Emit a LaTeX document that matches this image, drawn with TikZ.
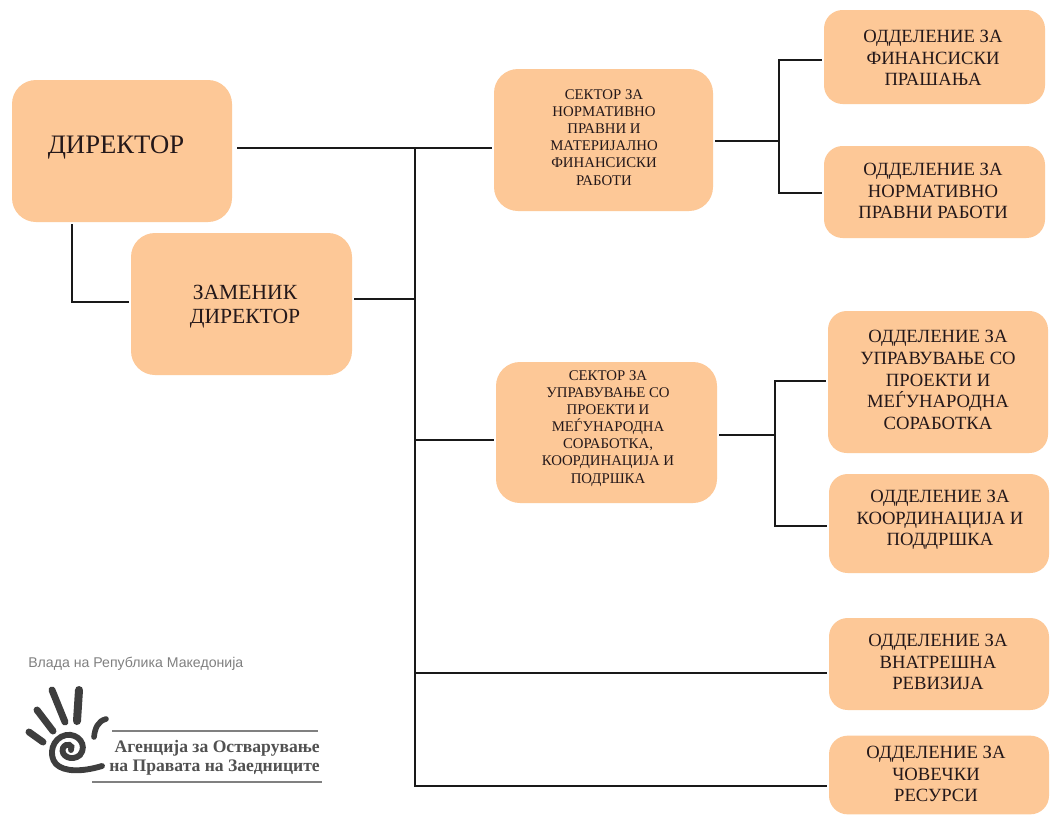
\documentclass[tikz,border=0pt]{standalone}
\usepackage{fontspec}
\setmainfont{Liberation Serif}
\newfontfamily\logosans{Liberation Sans}
\definecolor{boxfill}{HTML}{FDC897}
\definecolor{inkc}{HTML}{24181A}
\definecolor{logoc}{HTML}{3E3E3E}
\tikzset{
  orgbox/.style={fill=boxfill,draw=none,rounded corners=18pt,anchor=center,inner sep=0pt,outer sep=1.5pt},
  deptbox/.style={orgbox,rounded corners=14pt},
  depttxt/.style={align=center,text=inkc,inner sep=0pt,font=\fontsize{14}{16.2}\selectfont},
  sectxt/.style={align=center,text=inkc,inner sep=0pt,font=\fontsize{11.1}{12.8}\selectfont},
  bigtxt/.style={align=center,text=inkc,inner sep=0pt,font=\fontsize{20}{20}\selectfont},
  midtxt/.style={align=center,text=inkc,inner sep=0pt,font=\fontsize{16.2}{17.5}\selectfont},
  conn/.style={draw=black!90,line width=2.1pt},
  fingerln/.style={draw=logoc,line width=5.2pt,line cap=round},
  rulerln/.style={draw=gray,line width=0.9pt},
  logotxt/.style={font=\bfseries\fontsize{13.2}{15}\selectfont,text=logoc!90,inner sep=0pt,anchor=east}
}
\begin{document}
\begin{tikzpicture}[x=0.75pt,y=-0.75pt]
\useasboundingbox (0,0) rectangle (1055,814);
\fill[white] (0,0) rectangle (1055,814);
% boxes: minimum size in pt (px*0.75)
\node[orgbox,minimum width=165pt,minimum height=106.5pt] (dir) at (122,151) {};
\node[orgbox,minimum width=165.75pt,minimum height=106.5pt] (zam) at (241.5,304) {};
\node[orgbox,minimum width=164.25pt,minimum height=106.5pt] (s1) at (603.5,140) {};
\node[orgbox,minimum width=165.75pt,minimum height=105.75pt] (s2) at (606.5,432.5) {};
\node[deptbox,minimum width=165.75pt,minimum height=70.5pt] (o1) at (934.5,57) {};
\node[deptbox,minimum width=165.75pt,minimum height=69pt] (o2) at (934.5,192) {};
\node[deptbox,minimum width=165pt,minimum height=106.5pt] (o3) at (938,382) {};
\node[deptbox,minimum width=165pt,minimum height=74.25pt] (o4) at (939,523.5) {};
\node[deptbox,minimum width=165pt,minimum height=69pt] (o5) at (939,664) {};
\node[deptbox,minimum width=165pt,minimum height=59pt] (o6) at (939,775) {};
% texts
\node[bigtxt] (dirt) at (116,148) {ДИРЕКТОР};
\node[midtxt] (zamt) at (245,306.5) {ЗАМЕНИК\\ДИРЕКТОР};
\node[sectxt] (s1t) at (604,137.5) {СЕКТОР ЗА\\НОРМАТИВНО\\ПРАВНИ И\\МАТЕРИЈАЛНО\\ФИНАНСИСКИ\\РАБОТИ};
\node[sectxt] (s2t) at (608,428.5) {СЕКТОР ЗА\\УПРАВУВАЊЕ СО\\ПРОЕКТИ И\\МЕЃУНАРОДНА\\СОРАБОТКА,\\КООРДИНАЦИЈА И\\ПОДРШКА};
\node[depttxt] (o1t) at (933,58) {ОДДЕЛЕНИЕ ЗА\\ФИНАНСИСКИ\\ПРАШАЊА};
\node[depttxt] (o2t) at (933,191) {ОДДЕЛЕНИЕ ЗА\\НОРМАТИВНО\\ПРАВНИ РАБОТИ};
\node[depttxt] (o3t) at (938,380) {ОДДЕЛЕНИЕ ЗА\\УПРАВУВАЊЕ СО\\ПРОЕКТИ И\\МЕЃУНАРОДНА\\СОРАБОТКА};
\node[depttxt] (o4t) at (940,520) {ОДДЕЛЕНИЕ ЗА\\КООРДИНАЦИЈА И\\ПОДДРШКА};
\node[depttxt] (o5t) at (938,662) {ОДДЕЛЕНИЕ ЗА\\ВНАТРЕШНА\\РЕВИЗИЈА};
\node[depttxt] (o6t) at (936,774) {ОДДЕЛЕНИЕ ЗА\\ЧОВЕЧКИ\\РЕСУРСИ};
% junction coordinates
\coordinate (ttop) at (415,148);
\coordinate (tzam) at (415,299);
\coordinate (ts2) at (415,440);
\coordinate (to5) at (415,673);
\coordinate (to6) at (415,786);
\coordinate (dcorner) at (72,302);
\coordinate (j1) at (779,141);
\coordinate (j1a) at (779,60);
\coordinate (j1b) at (779,193);
\coordinate (j2) at (775,435);
\coordinate (j2a) at (775,381);
\coordinate (j2b) at (775,526);
% connectors
\draw[conn,line cap=rect] (ttop) -- (to6);
\draw[conn] (dir.east |- ttop) ++(3,0) -- (ttop) -- (s1.west |- ttop);
\draw[conn] (zam.east |- tzam) -- (tzam);
\draw[conn] (ts2) -- (s2.west |- ts2);
\draw[conn] (to5) -- (o5.west |- to5);
\draw[conn] (to6) -- (o6.west |- to6);
\draw[conn] (dir.south -| dcorner) -- (dcorner) -- (zam.west |- dcorner);
\draw[conn] (s1.east |- j1) -- (j1);
\draw[conn,line cap=rect] (j1a) -- (j1b);
\draw[conn] (j1a) -- (o1.west |- j1a);
\draw[conn] (j1b) -- (o2.west |- j1b);
\draw[conn] (s2.east |- j2) -- (j2);
\draw[conn,line cap=rect] (j2a) -- (j2b);
\draw[conn] (j2a) -- (o3.west |- j2a);
\draw[conn] (j2b) -- (o4.west |- j2b);
% logo
\node[font=\logosans\fontsize{10.6}{12}\selectfont,text=black!50,inner sep=0pt,anchor=west] (gov) at (28,664) {Влада на Република Македонија};
\draw[fingerln] (29,732) -- (43,742);
\draw[fingerln] (37,710) -- (53,731);
\draw[fingerln] (52,690) -- (65,722);
\draw[fingerln,line width=6pt] (79,690) -- (77,721);
\draw[fingerln,line width=4.2pt] (106,719) .. controls (98,721) and (95,728) .. (94,737);
\draw[draw=logoc,line width=4.4pt,line cap=round]
  (71,750) .. controls (74,745) and (66,742) .. (63,748)
  .. controls (60,756) and (72,762) .. (80,755)
  .. controls (88,745) and (78,733) .. (66,735)
  .. controls (52,738) and (48,755) .. (56,764)
  .. controls (64,772) and (82,772) .. (102,766);
\draw[rulerln] (112,731) -- (318,731);
\draw[rulerln] (92,782) -- (322,782);
\node[logotxt] (l1) at (320,748) {Агенција за Остварување};
\node[logotxt] (l2) at (320,768) {на Правата на Заедниците};
\end{tikzpicture}
\end{document}
